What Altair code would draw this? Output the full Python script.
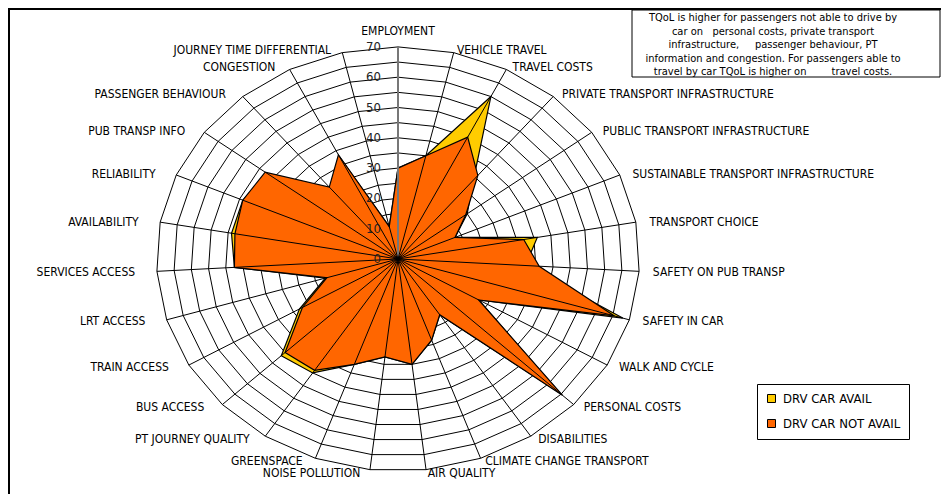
import altair as alt
import pandas as pd

# ---------------- data ----------------
categories = [
    "EMPLOYMENT", "VEHICLE TRAVEL", "TRAVEL COSTS", "PRIVATE TRANSPORT INFRASTRUCTURE",
    "PUBLIC TRANSPORT INFRASTRUCTURE", "SUSTAINABLE TRANSPORT INFRASTRUCTURE",
    "TRANSPORT CHOICE", "SAFETY ON PUB TRANSP", "SAFETY IN CAR", "WALK AND CYCLE",
    "PERSONAL COSTS", "DISABILITIES", "CLIMATE CHANGE TRANSPORT", "AIR QUALITY",
    "NOISE POLLUTION", "GREENSPACE", "PT JOURNEY QUALITY", "BUS ACCESS", "TRAIN ACCESS",
    "LRT ACCESS", "SERVICES ACCESS", "AVAILABILITY", "RELIABILITY", "PUB TRANSP INFO",
    "PASSENGER BEHAVIOUR", "CONGESTION", "JOURNEY TIME DIFFERENTIAL",
]
drv_car_avail = [30, 35, 60, 34, 25, 18, 41, 37, 68, 27, 64.5, 22, 28.5, 35,
                 32.5, 37, 45, 46.5, 33, 22, 47.5, 49, 49, 47.5, 30, 37.5, 11]
drv_car_not_avail = [30, 35, 45, 36, 24.5, 18, 37, 41, 65.5, 27, 65.5, 22, 28.5, 35,
                     32.5, 37, 44, 45, 32, 21.5, 47.5, 48, 49, 48, 31, 38.5, 11]
series_names = ["DRV CAR AVAIL", "DRV CAR NOT AVAIL"]
series_colors = ["#FFCC00", "#FF6600"]
ring_levels = list(range(5, 75, 5))
tick_labels = list(range(0, 80, 10))
note_lines = [
    "TQoL is higher for passengers not able to drive by",
    "car on\u00a0\u00a0 personal costs, private transport",
    "infrastructure,\u00a0\u00a0\u00a0\u00a0 passenger behaviour, PT",
    "information and congestion. For passengers able to",
    "travel by car TQoL is higher on\u00a0\u00a0\u00a0\u00a0\u00a0\u00a0\u00a0 travel costs.",
]

# ---------------- layout ----------------
N = len(categories)
RMAX = max(ring_levels)
W, H = 933, 486
CX, CY = 390, 251          # centre of the web in plot pixels
PXX, PXY = 3.45, 3.03      # pixels per unit (horizontal, vertical)
FONT = "'DejaVu Sans Condensed', 'Liberation Sans', sans-serif"

xs = alt.Scale(domain=[-CX / PXX, (W - CX) / PXX], nice=False, zero=False)
ys = alt.Scale(domain=[-(H - CY) / PXY, CY / PXY], nice=False, zero=False)
ANG = f"datum.idx * 2 * PI / {N}"

series_df = pd.DataFrame(
    [{"idx": i, "category": c, "series": series_names[0], "value": v}
     for i, (c, v) in enumerate(zip(categories, drv_car_avail))]
    + [{"idx": i, "category": c, "series": series_names[1], "value": v}
       for i, (c, v) in enumerate(zip(categories, drv_car_not_avail))]
)
rings_df = pd.DataFrame([{"level": lv, "idx": i} for lv in ring_levels for i in range(N)])
cat_df = pd.DataFrame({"idx": list(range(N)), "category": categories})
tick_df = pd.DataFrame({"t": tick_labels})
one_df = pd.DataFrame({"k": [0]})

fill_scale = alt.Scale(domain=series_names, range=series_colors)
legend = alt.Legend(
    title=None, orient="none", legendX=749, legendY=376,
    symbolType="square", symbolSize=64, symbolStrokeColor="black",
    symbolStrokeWidth=1, symbolOpacity=1, labelFont=FONT, labelFontSize=13,
    labelColor="black", padding=8, rowPadding=11, labelOffset=5,
    strokeColor="black", fillColor="white",
)

rings = alt.Chart(rings_df).transform_calculate(
    a=ANG, gx="datum.level * sin(datum.a)", gy="datum.level * cos(datum.a)"
).mark_line(interpolate="linear-closed", color="black", strokeWidth=1).encode(
    x=alt.X("gx:Q", scale=xs, axis=None),
    y=alt.Y("gy:Q", scale=ys, axis=None),
    detail="level:N",
    order="idx:Q",
)


def polygon(name):
    return alt.Chart(series_df).transform_filter(
        alt.datum.series == name
    ).transform_calculate(
        a=ANG, px="datum.value * sin(datum.a)", py="datum.value * cos(datum.a)"
    ).mark_line(interpolate="linear-closed", stroke="black", strokeWidth=1.2,
                fillOpacity=1).encode(
        x=alt.X("px:Q", scale=xs, axis=None),
        y=alt.Y("py:Q", scale=ys, axis=None),
        order="idx:Q",
        fill=alt.Fill("series:N", scale=fill_scale, legend=legend),
    )


spokes = alt.Chart(cat_df).transform_calculate(
    a=ANG, sx=f"{RMAX} * sin(datum.a)", sy=f"{RMAX} * cos(datum.a)", z="0"
).mark_rule().encode(
    x=alt.X("z:Q", scale=xs, axis=None),
    y=alt.Y("z:Q", scale=ys, axis=None),
    x2="sx:Q",
    y2="sy:Q",
    color=alt.condition(alt.datum.idx == 0, alt.value("#777777"), alt.value("black")),
    strokeWidth=alt.condition(alt.datum.idx == 0, alt.value(2), alt.value(1)),
)

ticks = alt.Chart(tick_df).transform_calculate(z="0").mark_text(
    align="right", baseline="middle", dx=-17, font=FONT, fontSize=13, color="#222222"
).encode(
    x=alt.X("z:Q", scale=xs, axis=None),
    y=alt.Y("t:Q", scale=ys, axis=None),
    text="t:Q",
)


def cat_labels(cond, align, dx, dy):
    return alt.Chart(cat_df).transform_filter(cond).transform_calculate(
        a=ANG, lx="74 * sin(datum.a)", ly="71 * cos(datum.a)"
    ).mark_text(align=align, baseline="middle", dx=dx, dy=dy, font=FONT,
                fontSize=12, color="black").encode(
        x=alt.X("lx:Q", scale=xs, axis=None),
        y=alt.Y("ly:Q", scale=ys, axis=None),
        text="category:N",
    )


labels_top = cat_labels("datum.idx == 0", "center", 0, -13)
labels_right = cat_labels(f"datum.idx > 0 && datum.idx <= {N // 2}", "left", 0, 0)
labels_left = cat_labels(f"datum.idx > {N // 2}", "right", -8, 0)

note_box = alt.Chart(one_df).mark_rect(
    fill="white", stroke="black", strokeWidth=1
).encode(x=alt.value(624), x2=alt.value(932), y=alt.value(2), y2=alt.value(69))
note_text = alt.Chart(one_df).mark_text(
    align="center", baseline="top", lineHeight=13.5, font=FONT, fontSize=11, color="black"
).encode(x=alt.value(765), y=alt.value(4), text=alt.value(note_lines))

frame_top = alt.Chart(one_df).mark_rule(color="black", strokeWidth=2).encode(
    x=alt.value(0), x2=alt.value(W), y=alt.value(1))
frame_left = alt.Chart(one_df).mark_rule(color="black", strokeWidth=2).encode(
    x=alt.value(1), y=alt.value(0), y2=alt.value(H))

chart = alt.layer(
    rings, polygon(series_names[0]), polygon(series_names[1]), spokes, ticks,
    labels_top, labels_right, labels_left, note_box, note_text, frame_top, frame_left,
).properties(
    width=W, height=H, autosize=alt.AutoSizeParams(type="none"), padding=0,
    background="white",
).configure_view(stroke=None)

chart.save("out.html", embed_options={"renderer": "svg", "actions": False})
